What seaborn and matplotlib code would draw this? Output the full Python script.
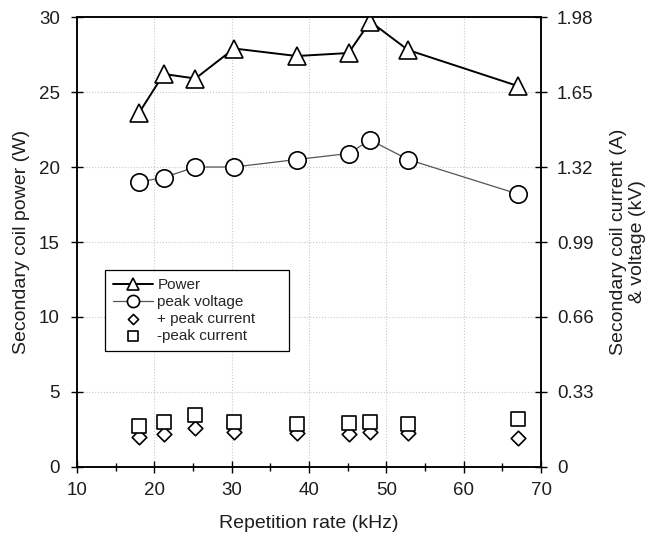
import matplotlib
matplotlib.use("Agg")
import matplotlib.pyplot as plt
import seaborn as sns
import pandas as pd
from matplotlib.ticker import MultipleLocator, FixedLocator, FixedFormatter

rate_khz = [18.0, 21.2, 25.3, 30.3, 38.4, 45.1, 47.9, 52.8, 67.0]
power_w = [23.6, 26.2, 25.9, 27.9, 27.4, 27.6, 29.7, 27.8, 25.4]
peak_voltage = [19.0, 19.3, 20.0, 20.0, 20.5, 20.9, 21.8, 20.5, 18.2]
pos_peak_current = [2.0, 2.2, 2.6, 2.3, 2.25, 2.2, 2.35, 2.25, 1.95]
neg_peak_current = [2.7, 3.0, 3.45, 3.0, 2.85, 2.9, 3.0, 2.85, 3.2]
right_ticks = [0, 0.33, 0.66, 0.99, 1.32, 1.65, 1.98]
right_labels = ["0", "0.33", "0.66", "0.99", "1.32", "1.65", "1.98"]

df = pd.DataFrame({"rate": rate_khz, "power": power_w, "volt": peak_voltage,
                   "ipos": pos_peak_current, "ineg": neg_peak_current})

sns.set_style("ticks")
plt.rcParams["font.family"] = ["Liberation Sans", "DejaVu Sans"]

TXT = "#1e1e1e"
fig = plt.figure(figsize=(6.48, 5.42), dpi=100)
ax = fig.add_axes([0.119, 0.1384, 0.716, 0.8302])

sns.lineplot(data=df, x="rate", y="power", ax=ax, color="black", lw=1.4,
             marker="^", markersize=13, markerfacecolor="white",
             markeredgecolor="black", markeredgewidth=1.2, label="Power", zorder=4)
sns.lineplot(data=df, x="rate", y="volt", ax=ax, color="#555555", lw=0.9,
             marker="o", markersize=12.5, markerfacecolor="white",
             markeredgecolor="black", markeredgewidth=1.2, label="peak voltage", zorder=4)
sns.scatterplot(data=df, x="rate", y="ipos", ax=ax, marker="D", s=55,
                facecolor="white", edgecolor="black", linewidth=1.2,
                label="+ peak current", zorder=3)
sns.scatterplot(data=df, x="rate", y="ineg", ax=ax, marker="s", s=110,
                facecolor="white", edgecolor="black", linewidth=1.2,
                label="-peak current", zorder=4)

ax.set_xlim(10, 70)
ax.set_ylim(0, 30)
ax.xaxis.set_major_locator(MultipleLocator(10))
ax.xaxis.set_minor_locator(MultipleLocator(5))
ax.yaxis.set_major_locator(MultipleLocator(5))
ax.grid(True, which="major", color="#c8c8c8", linestyle=":", lw=0.8)
ax.tick_params(axis="both", which="major", direction="inout", length=9, width=1,
               labelsize=13.5, color="black", labelcolor=TXT)
ax.tick_params(axis="x", which="minor", direction="inout", length=6, width=1, color="black")
ax.tick_params(axis="x", pad=6)
ax.tick_params(axis="y", pad=8)
for s in ax.spines.values():
    s.set_color("black")
    s.set_linewidth(1.1)
ax.set_xlabel("Repetition rate (kHz)", fontsize=14, color=TXT, labelpad=12)
ax.set_ylabel("Secondary coil power (W)", fontsize=14, color=TXT, labelpad=6)

ax2 = ax.twinx()
ax2.set_ylim(0, 1.98)
ax2.yaxis.set_major_locator(FixedLocator(right_ticks))
ax2.yaxis.set_major_formatter(FixedFormatter(right_labels))
ax2.tick_params(axis="y", direction="inout", length=9, width=1, labelsize=13.5,
                color="black", labelcolor=TXT, pad=7)
for s in ax2.spines.values():
    s.set_color("black")
    s.set_linewidth(1.1)
ax2.set_ylabel("Secondary coil current (A)\n& voltage (kV)", fontsize=14,
               color=TXT, labelpad=12, linespacing=1.1)

handles, labels = ax.get_legend_handles_labels()
leg = ax.legend(handles, labels, loc="upper left", bbox_to_anchor=(0.043, 0.275, 0.43, 0.18),
                mode="expand", fontsize=11, frameon=True, fancybox=False, edgecolor="black",
                framealpha=1, markerscale=0.7, handlelength=2.6, handletextpad=0.3,
                labelspacing=0.18, borderpad=0.55)
leg.get_frame().set_linewidth(0.9)
leg.set_zorder(10)

fig.savefig("out.png", dpi=100)
